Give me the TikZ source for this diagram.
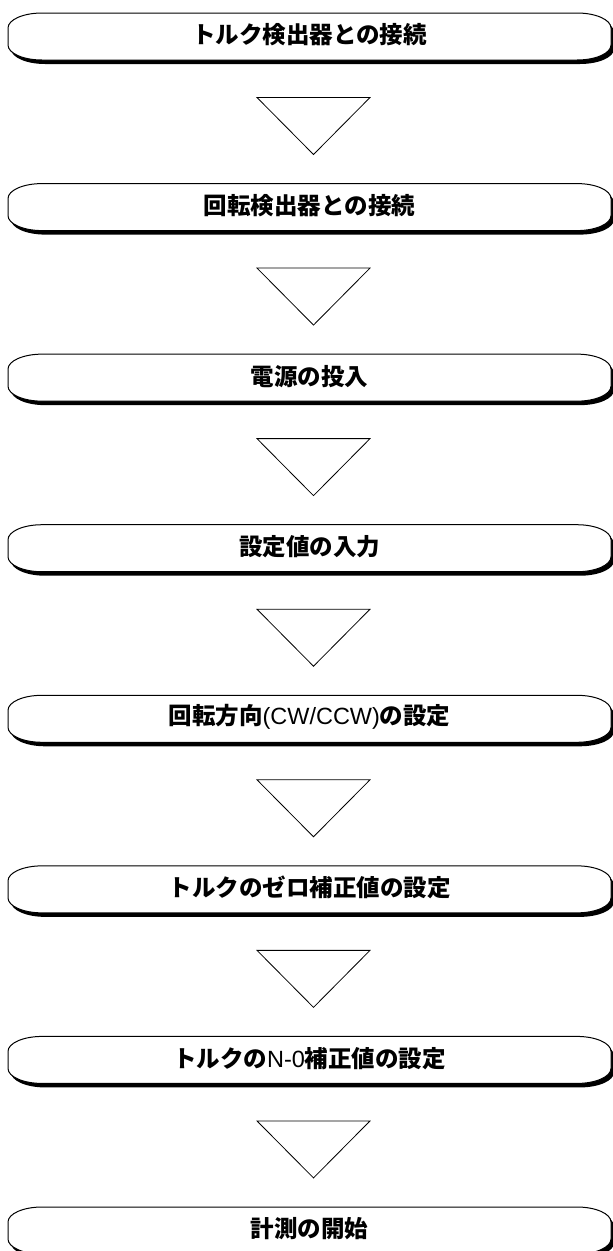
\documentclass[tikz,border=0pt]{standalone}
\usepackage{fontspec}
\newfontfamily\jp{Noto Sans CJK JP}
\newfontfamily\lat{Liberation Sans}
\newcommand\boxpath[1]{(42,-#1+24) -- (577,-#1+24) arc[start angle=90,end angle=0,x radius=34pt,y radius=15pt] -- (611,-#1-8) arc[start angle=0,end angle=-90,x radius=34pt,y radius=15pt] -- (42,-#1-23) arc[start angle=270,end angle=180,x radius=34pt,y radius=15pt] -- (8,-#1+9) arc[start angle=180,end angle=90,x radius=34pt,y radius=15pt] -- cycle}
\tikzset{
  boxshadow/.style={fill=black},
  boxbody/.style={fill=white,draw=black,line width=1pt},
  boxtext/.style={inner sep=0pt,font=\jp\bfseries\fontsize{23.5pt}{24pt}\selectfont},
  arrowtri/.style={draw=black,line width=0.8pt,line join=miter}
}
\newcommand\flowbox[3]{%
  \fill[boxshadow,xshift=3pt,yshift=-4pt] \boxpath{#2};
  \path[boxbody] \boxpath{#2};
  \node[boxtext] (#1) at (309.5,-#2+2) {#3};
}
\newcommand\flowtri[2]{%
  \coordinate (#1a) at (257,-#2-60.5);
  \coordinate (#1b) at (370,-#2-60.5);
  \coordinate (#1c) at (313.5,-#2-117.5);
  \draw[arrowtri] (#1a) -- (#1b) -- (#1c) -- cycle;
}
\newcommand\lt[1]{{\lat\mdseries #1}}
\begin{document}
\begin{tikzpicture}[x=1pt,y=1pt]
\useasboundingbox (0,0) rectangle (613,-1251);
\flowbox{b1}{37}{トルク検出器との接続}
\flowtri{t1}{37}
\flowbox{b2}{207.57}{回転検出器との接続}
\flowtri{t2}{207.57}
\flowbox{b3}{378.14}{電源の投入}
\flowtri{t3}{378.14}
\flowbox{b4}{548.71}{設定値の入力}
\flowtri{t4}{548.71}
\flowbox{b5}{719.28}{回転方向\lt{(CW/CCW)}の設定}
\flowtri{t5}{719.28}
\flowbox{b6}{889.85}{トルクのゼロ補正値の設定}
\flowtri{t6}{889.85}
\flowbox{b7}{1060.42}{トルクの\lt{N-0}補正値の設定}
\flowtri{t7}{1060.42}
\flowbox{b8}{1231}{計測の開始}
\end{tikzpicture}
\end{document}
